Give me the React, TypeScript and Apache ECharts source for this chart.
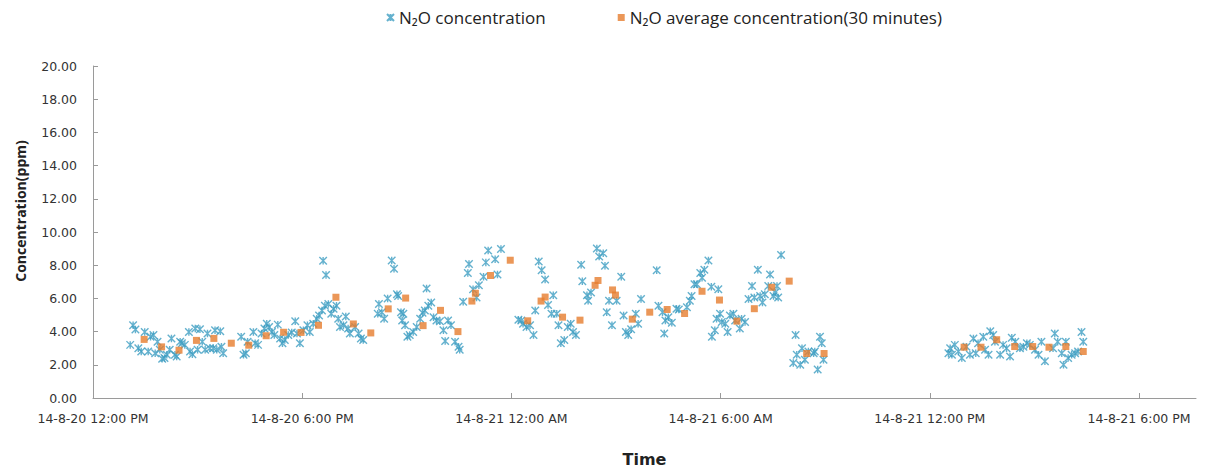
import React, { useEffect, useRef } from 'react';
import * as echarts from 'echarts';

// x values: minutes elapsed since 14-8-20 12:00 PM
const xTickLabels = [
  '14-8-20 12:00 PM',
  '14-8-20 6:00 PM',
  '14-8-21 12:00 AM',
  '14-8-21 6:00 AM',
  '14-8-21 12:00 PM',
  '14-8-21 6:00 PM',
];

const n2oMinutes = [
  64, 69, 73, 78, 83, 89, 95, 99, 104, 107, 111, 115, 119, 123, 127, 132, 135, 141, 144, 150,
  153, 158, 165, 167, 171, 176, 180, 184, 188, 193, 197, 201, 207, 210, 213, 219, 221, 224,
  255, 259, 263, 266, 276, 279, 284, 290, 295, 299, 303, 308, 312, 318, 322, 326, 330, 336,
  342, 348, 351, 356, 362, 369, 373, 379, 385, 389, 394, 396, 399, 401, 405, 410, 414, 419,
  422, 425, 431, 435, 439, 442, 451, 457, 461, 465, 490, 492, 497, 501, 507, 514, 518, 523,
  525, 530, 532, 534, 537, 541, 545, 551, 557, 563, 567, 571, 574, 577, 582, 586, 591, 597,
  603, 606, 611, 616, 623, 629, 631, 637, 645, 647, 654, 660, 664, 672, 676, 680, 692, 696,
  702, 732, 737, 740, 746, 752, 758, 761, 767, 772, 778, 783, 789, 792, 798, 801, 805, 811,
  817, 822, 826, 831, 840, 842, 850, 852, 857, 867, 871, 878, 881, 884, 888, 893, 901, 909,
  913, 917, 921, 926, 934, 938, 943, 970, 973, 980, 983, 985, 990, 996, 1004, 1008, 1022,
  1027, 1030, 1035, 1039, 1045, 1048, 1052, 1059, 1064, 1065, 1070, 1073, 1076, 1079, 1082,
  1088, 1092, 1096, 1102, 1105, 1113, 1116, 1122, 1128, 1134, 1138, 1144, 1148, 1152, 1156,
  1162, 1165, 1171, 1174, 1177, 1179, 1184, 1205, 1209, 1211, 1217, 1220, 1225, 1231, 1240,
  1242, 1247, 1251, 1254, 1257, 1472, 1475, 1478, 1483, 1489, 1495, 1503, 1509, 1515, 1519,
  1523, 1532, 1535, 1541, 1544, 1549, 1552, 1561, 1566, 1572, 1578, 1581, 1587, 1595, 1601,
  1607, 1612, 1621, 1627, 1632, 1638, 1652, 1655, 1660, 1667, 1670, 1674, 1678, 1684, 1690,
  1695, 1701, 1704,
];

const n2oValues = [
  3.2, 4.38, 4.12, 3.0, 2.8, 3.98, 2.8, 3.69, 3.79, 2.7, 3.39, 2.9, 2.37, 2.41, 2.6, 2.9, 3.59, 2.6, 2.5, 3.39,
  3.3, 3.2, 3.98, 2.8, 2.64, 4.18, 2.9, 4.14, 3.39, 2.9, 3.89, 3.0, 3.0, 4.08, 2.9, 4.02, 3.09, 2.7,
  3.69, 2.6, 2.7, 3.39, 3.98, 3.3, 3.2, 3.89, 4.18, 4.48, 4.28, 3.98, 3.79, 4.42, 3.59, 3.3, 3.49, 3.79,
  3.95, 4.62, 3.89, 3.3, 4.08, 4.38, 3.98, 4.48, 4.78, 4.97, 5.27, 8.27, 5.56, 7.41, 5.66, 5.07, 5.37, 5.56,
  4.78, 4.28, 4.38, 4.91, 4.18, 3.89, 4.28, 3.89, 3.59, 3.49, 5.07, 5.66, 5.17, 4.78, 6.0, 8.28, 7.79, 6.25,
  6.15, 5.17, 4.67, 5.07, 4.38, 3.69, 3.79, 3.98, 4.28, 4.78, 5.13, 5.27, 6.59, 5.56, 5.76, 4.87, 4.67, 4.62,
  4.08, 3.43, 4.67, 4.38, 3.39, 3.09, 2.9, 5.8, 7.53, 8.07, 6.55, 6.05, 6.79, 7.3, 8.17, 8.88, 8.36, 7.44,
  8.98, 4.72, 4.67, 4.48, 4.28, 4.38, 3.79, 5.27, 8.22, 7.69, 7.14, 5.6, 5.07, 6.19, 5.07, 4.38, 3.3, 3.49,
  4.28, 4.48, 3.98, 3.79, 8.03, 7.04, 6.19, 5.86, 6.35, 9.01, 8.52, 8.72, 7.97, 5.17, 5.86, 4.38, 5.86, 7.3,
  4.97, 3.98, 3.79, 4.14, 5.07, 4.48, 5.96, 7.69, 5.56, 5.17, 3.89, 4.67, 4.87, 4.54, 5.37, 5.33, 5.46,
  5.86, 6.15, 6.85, 6.85, 7.53, 7.24, 7.73, 8.28, 6.7, 3.69, 4.08, 4.78, 6.55, 5.07, 4.58,
  4.48, 3.98, 4.97, 5.07, 4.67, 4.18, 4.78, 4.58, 5.96, 6.75, 6.05, 7.73, 6.15, 5.76, 6.25,
  6.75, 7.44, 6.15, 6.35, 6.75, 6.05, 8.62, 2.11, 3.79, 2.6, 2.01, 3.0, 2.31, 2.8, 2.7,
  2.8, 1.72, 3.69, 3.3, 2.31, 2.7, 3.0, 2.6, 3.2, 2.8, 2.41, 3.09, 2.6, 3.59, 2.7,
  3.3, 3.69, 2.9, 2.6, 4.02, 3.79, 3.39, 2.6, 3.2, 3.0, 2.5, 3.63, 3.39, 3.0, 3.09,
  3.3, 3.2, 2.9, 2.6, 3.39, 2.21, 3.0, 3.89, 3.39, 2.7, 2.01, 3.39, 2.41, 2.6, 2.7,
  2.8, 3.98, 3.39,
];

const avgMinutes = [
  88, 118, 148, 178, 208, 238, 268, 298, 328, 358, 388, 418, 448, 478, 508, 538, 568, 598, 628,
  652, 658, 684, 718, 748, 771, 778, 808, 838, 864, 869, 894, 899, 928, 958, 988, 1018, 1048,
  1078, 1108, 1138, 1168, 1198, 1228, 1258, 1499, 1528, 1555, 1586, 1617, 1645, 1674, 1704,
];

const avgValues = [
  3.53, 3.08, 2.88, 3.47, 3.59, 3.3, 3.18, 3.75, 3.96, 3.95, 4.38, 6.07, 4.46, 3.92, 5.37, 6.02, 4.36, 5.28, 4.0,
  5.84, 6.31, 7.38, 8.3, 4.65, 5.84, 6.08, 4.87, 4.69, 6.79, 7.08, 6.51, 6.2, 4.75, 5.17, 5.33, 5.09, 6.43,
  5.9, 4.63, 5.38, 6.67, 7.04, 2.68, 2.68, 3.06, 3.06, 3.51, 3.1, 3.1, 3.06, 3.1, 2.8,
];

const seriesNames = ['N₂O concentration', 'N₂O average concentration(30 minutes)'];
const starColor = '#3D9DC2';
const avgColor = '#E67D2E';

export default function App() {
  const ref = useRef<HTMLDivElement>(null);

  useEffect(() => {
    if (!ref.current) return;
    const chart = echarts.init(ref.current, null, { renderer: 'svg' });
    const starData = n2oMinutes.map((m, i) => [m, n2oValues[i]]);
    const avgData = avgMinutes.map((m, i) => [m, avgValues[i]]);

    chart.setOption({
      animation: false,
      backgroundColor: '#ffffff',
      legend: {
        data: seriesNames,
        left: 381,
        top: 4,
        itemWidth: 7,
        itemHeight: 7,
        itemGap: 72,
        textStyle: { fontFamily: 'Open Sans', fontSize: 17, color: '#222' },
      },
      grid: { left: 93, right: 12, top: 66, bottom: 68, containLabel: false },
      xAxis: {
        type: 'value',
        min: 0,
        max: 1898,
        interval: 360,
        name: 'Time',
        nameLocation: 'middle',
        nameGap: 53,
        nameTextStyle: { fontFamily: 'DejaVu Sans', fontWeight: 'bold', fontSize: 16, color: '#222' },
        axisLine: { show: true, lineStyle: { color: '#9a9a9a', width: 1 } },
        axisTick: { show: true, inside: true, length: 5, lineStyle: { color: '#9a9a9a' } },
        splitLine: { show: false },
        axisLabel: {
          margin: 14,
          showMaxLabel: false,
          fontFamily: 'DejaVu Sans',
          fontSize: 12.5,
          color: '#333',
          formatter: (v: number) => (v % 360 === 0 ? xTickLabels[v / 360] || '' : ''),
        },
      },
      yAxis: {
        type: 'value',
        min: 0,
        max: 20,
        interval: 2,
        name: 'Concentration(ppm)',
        nameLocation: 'middle',
        nameRotate: 90,
        nameGap: 66,
        nameTextStyle: {
          fontFamily: 'Open Sans',
          fontWeight: 'bold',
          fontSize: 14,
          color: '#222',
          padding: [0, 0, 0, 42],
        },
        axisLine: { show: true, lineStyle: { color: '#9a9a9a', width: 1 } },
        axisTick: { show: true, inside: true, length: 5, lineStyle: { color: '#9a9a9a' } },
        splitLine: { show: false },
        axisLabel: {
          margin: 16,
          fontFamily: 'DejaVu Sans',
          fontSize: 12.5,
          color: '#333',
          formatter: (v: number) => v.toFixed(2),
        },
      },
      series: [
        {
          name: seriesNames[0],
          type: 'scatter',
          data: starData,
          symbol: 'path://M0,0L10,10M10,0L0,10M5,0L5,10',
          symbolSize: 7.5,
          itemStyle: { color: 'transparent', borderColor: starColor, borderWidth: 1.4 },
          emphasis: { disabled: true },
          z: 2,
        },
        {
          name: seriesNames[1],
          type: 'scatter',
          data: avgData,
          symbol: 'rect',
          symbolSize: 7,
          itemStyle: { color: avgColor },
          emphasis: { disabled: true },
          z: 3,
        },
      ],
    });

    return () => chart.dispose();
  }, []);

  return (
    <div
      ref={ref}
      style={{ position: 'fixed', left: 0, top: 0, width: 1208, height: 472, background: '#fff' }}
    />
  );
}
